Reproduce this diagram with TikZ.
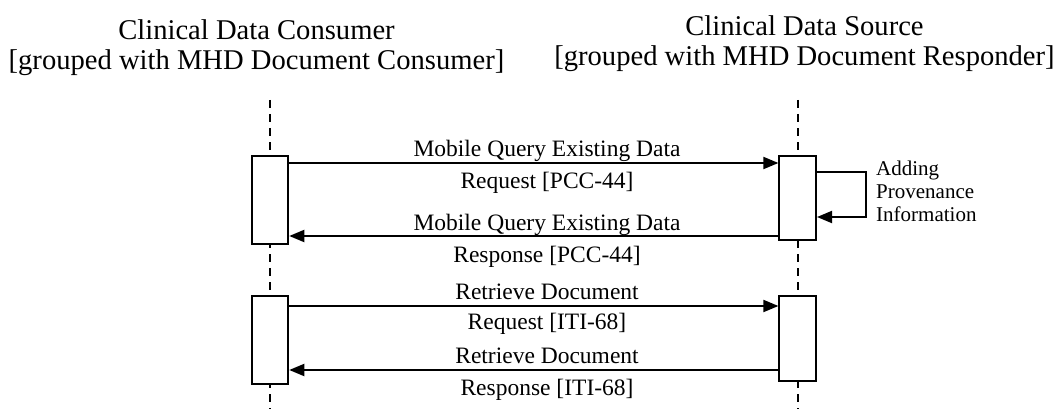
\documentclass[tikz,border=0pt]{standalone}
\usepackage{fontspec}
\setmainfont{Liberation Serif}
\usetikzlibrary{arrows.meta}
\begin{document}
\begin{tikzpicture}[x=1pt,y=-1pt,
  actbox/.style={draw, line width=1.9pt, fill=white, minimum width=36pt, inner sep=0pt},
  life/.style={line width=1.9pt, dash pattern=on 8pt off 6pt},
  msg/.style={line width=1.9pt, -{Triangle[length=15pt,width=12pt]}},
  title/.style={font=\fontsize{28.6}{30}\selectfont, anchor=base, inner sep=0pt},
  lbl/.style={font=\fontsize{23.5}{26}\selectfont, anchor=base, inner sep=0pt},
  note/.style={font=\fontsize{21}{23}\selectfont, anchor=base west, inner sep=0pt}]
\useasboundingbox (0,0) rectangle (1059,409);
% titles
\node[title] (tl1) at (256.5,40) {Clinical Data Consumer};
\node[title] (tl2) at (256.5,70) {[grouped with MHD Document Consumer]};
\node[title] (tr1) at (804.5,36) {Clinical Data Source};
\node[title] (tr2) at (804.5,66) {[grouped with MHD Document Responder]};
% lifelines
\coordinate (Ltop) at (270.3,100);
\coordinate (Lbot) at (270.3,409);
\coordinate (Rtop) at (797.7,100);
\coordinate (Rbot) at (797.7,409);
\draw[life] (Ltop) -- (Lbot);
\draw[life] (Rtop) -- (Rbot);
% activation boxes
\node[actbox, minimum height=88.6pt] (a1) at (270.3,200) {};
\node[actbox, minimum width=36.7pt, minimum height=84pt] (b1) at (797.7,198) {};
\node[actbox, minimum height=88.6pt] (a2) at (270.3,340) {};
\node[actbox, minimum width=36.7pt, minimum height=84.7pt] (b2) at (797.7,338.3) {};
% message rows
\coordinate (r1) at (0,163);
\coordinate (r2) at (0,236);
\coordinate (r3) at (0,306);
\coordinate (r4) at (0,370);
\coordinate (lp1) at (0,172);
\coordinate (lp2) at (0,217);
\draw[msg] (a1.east |- r1) -- (b1.west |- r1);
\draw[msg] (b1.west |- r2) -- (a1.east |- r2);
\draw[msg] (a2.east |- r3) -- (b2.west |- r3);
\draw[msg] (b2.west |- r4) -- (a2.east |- r4);
\draw[msg] (b1.east |- lp1) -- ++(49,0) |- (b1.east |- lp2);
% labels
\node[lbl] (m1a) at (547,156) {Mobile Query Existing Data};
\node[lbl] (m1b) at (547,188) {Request [PCC-44]};
\node[lbl] (m2a) at (547,230) {Mobile Query Existing Data};
\node[lbl] (m2b) at (547,262) {Response [PCC-44]};
\node[lbl] (m3a) at (547,299) {Retrieve Document};
\node[lbl] (m3b) at (547,329) {Request [ITI-68]};
\node[lbl] (m4a) at (547,363) {Retrieve Document};
\node[lbl] (m4b) at (547,395) {Response [ITI-68]};
% note
\node[note] (n1) at (876,175) {Adding};
\node[note] (n2) at (876,198) {Provenance};
\node[note] (n3) at (876,221) {Information};
\end{tikzpicture}
\end{document}
